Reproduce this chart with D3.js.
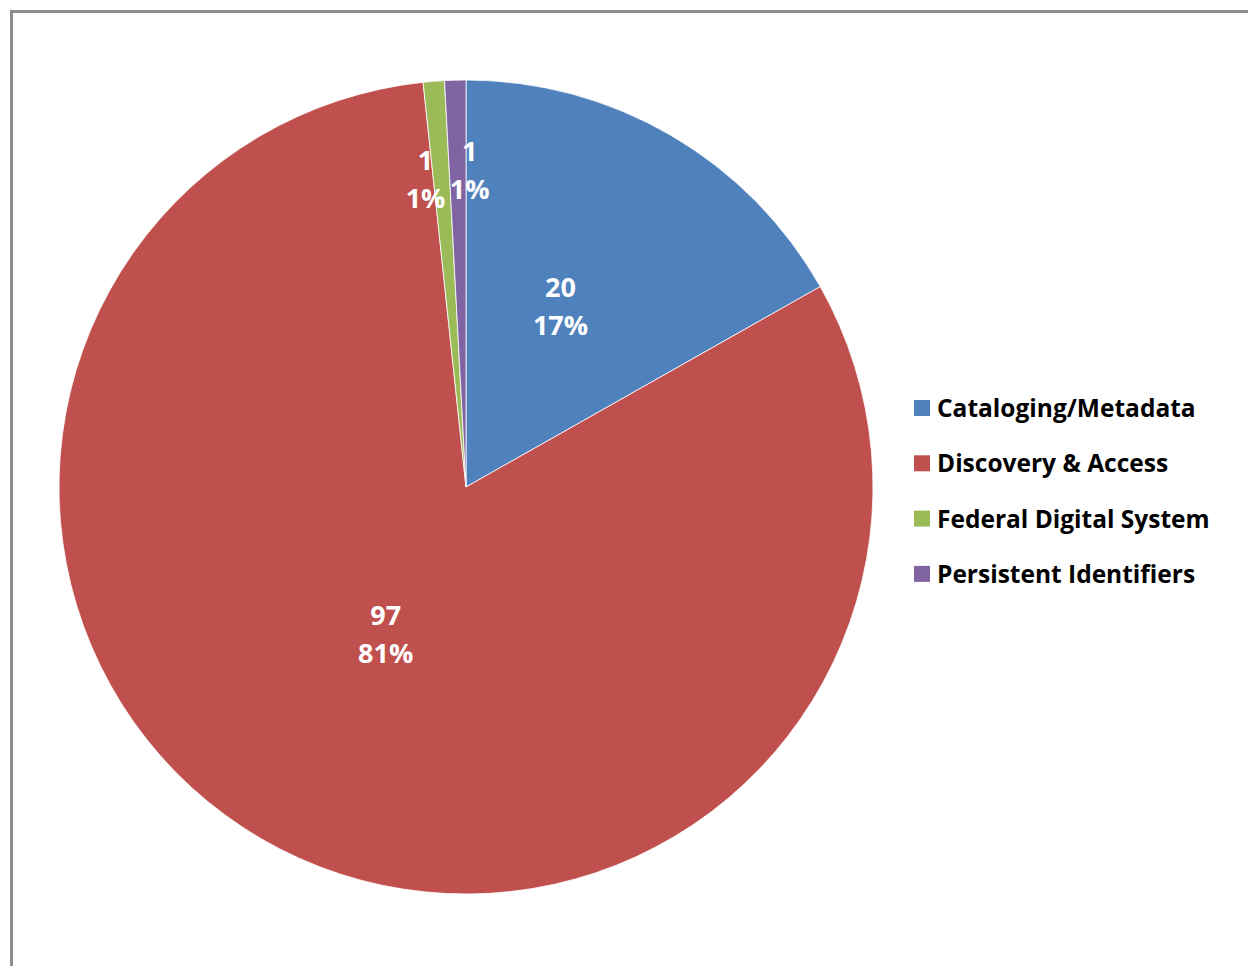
<!DOCTYPE html>
<html>
<head>
<meta charset="utf-8">
<script src="https://cdn.jsdelivr.net/npm/d3@7"></script>
<style>
  body { margin: 0; background: #fff; }
  svg { display: block; }
</style>
</head>
<body>
<div id="chart"></div>
<script>
// Data
var categories = ["Cataloging/Metadata", "Discovery & Access", "Federal Digital System", "Persistent Identifiers"];
var counts = [20, 97, 1, 1];
var percentLabels = ["17%", "81%", "1%", "1%"];
var colors = ["#4F81BD", "#C0504D", "#9BBB59", "#8064A2"];

// Set up the box
var svgWidth = 1248;
var svgHeight = 966;

var svg = d3.select("#chart")
    .append("svg")
    .attr("width", svgWidth)
    .attr("height", svgHeight);

// chart frame (only top and left edges are visible)
svg.append("path")
    .attr("d", "M11.5,966 V11.5 H1248")
    .attr("fill", "none")
    .attr("stroke", "#8c8c8c")
    .attr("stroke-width", 3);

var cx = 466, cy = 487, radius = 407;

var chartGroup = svg.append("g")
    .attr("transform", `translate(${cx}, ${cy})`);

var pie = d3.pie()
    .value(d => d)
    .sort(null);

var arcs = pie(counts);

var arc = d3.arc()
    .innerRadius(0)
    .outerRadius(radius);

chartGroup.selectAll("path.slice")
    .data(arcs)
    .enter()
    .append("path")
    .classed("slice", true)
    .attr("d", arc)
    .attr("fill", (d, i) => colors[i])
    .attr("stroke", "#fff")
    .attr("stroke-width", 0.8);

// label placement: radius fraction + nudge (Excel moves the tiny ones apart)
var labelPos = [
    {r: 0.5, dx: -8, dy: -5},
    {r: 0.41, dx: -4, dy: -1},
    {r: 0.76, dx: -16, dy: 0},
    {r: 0.78, dx: 12, dy: 0}
];

var labels = chartGroup.selectAll("text.slabel")
    .data(arcs)
    .enter()
    .append("text")
    .classed("slabel", true)
    .attr("transform", (d, i) => {
        var a = (d.startAngle + d.endAngle) / 2;
        var rr = radius * labelPos[i].r;
        var x = Math.sin(a) * rr + labelPos[i].dx;
        var y = -Math.cos(a) * rr + labelPos[i].dy;
        return `translate(${x}, ${y})`;
    })
    .attr("text-anchor", "middle")
    .attr("fill", "#fff")
    .style("font-family", "'Open Sans', 'Liberation Sans', sans-serif")
    .style("font-weight", "bold")
    .style("font-size", "27px");

labels.append("tspan")
    .attr("x", 0)
    .attr("y", -9)
    .text((d, i) => counts[i]);

labels.append("tspan")
    .attr("x", 0)
    .attr("y", 29)
    .text((d, i) => percentLabels[i]);

// Legend
var legend = svg.append("g")
    .attr("transform", "translate(914, 408)");

var items = legend.selectAll("g")
    .data(categories)
    .enter()
    .append("g")
    .attr("transform", (d, i) => `translate(0, ${i * 55.3})`);

items.append("rect")
    .attr("x", 0)
    .attr("y", -8)
    .attr("width", 16)
    .attr("height", 16)
    .attr("fill", (d, i) => colors[i]);

items.append("text")
    .attr("x", 23)
    .attr("y", 9)
    .attr("fill", "#000")
    .style("font-family", "'Open Sans', 'Liberation Sans', sans-serif")
    .style("font-weight", "bold")
    .style("font-size", "24.5px")
    .text(d => d);
</script>
</body>
</html>
